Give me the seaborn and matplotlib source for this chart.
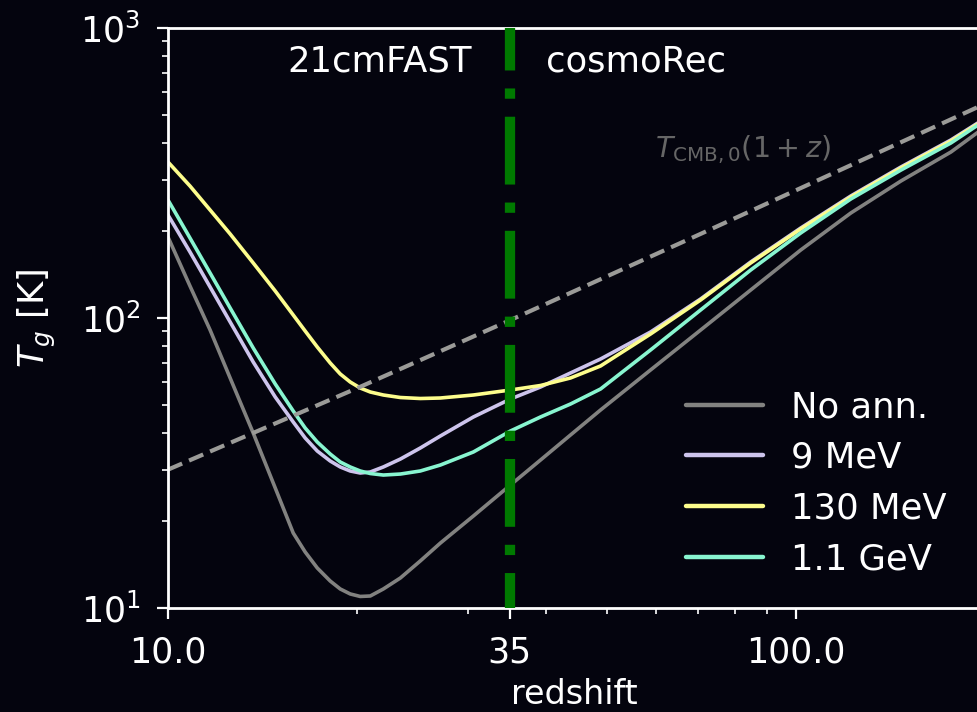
import numpy as np
import pandas as pd
import matplotlib
matplotlib.use("Agg")
import matplotlib.pyplot as plt
import matplotlib.ticker as mticker
import seaborn as sns

# ---------------- data ----------------
# shared redshift samples
z = [10.00, 10.84, 11.67, 12.56, 13.67, 14.82, 15.83, 16.54, 17.29, 18.13,
     18.81, 19.51, 20.24, 21.00, 22.03, 23.45, 25.23, 27.16, 30.65, 35.12,
     39.21, 43.77, 48.87, 58.71, 70.55, 84.77, 101.85, 122.4, 147.1, 176.7, 197.3]

T_noann = [190.2, 128.9, 90.9, 62.1, 40.1, 25.93, 18.14, 15.60, 13.74, 12.39,
           11.63, 11.18, 10.96, 11.00, 11.63, 12.69, 14.53, 16.75, 20.76, 26.56,
           32.38, 39.50, 48.17, 66.19, 90.9, 124.9, 171.6, 230.2, 296.8, 373.6, 444.9]

T_9mev = [226.6, 168.9, 127.9, 96.9, 70.5, 53.4, 43.8, 38.57, 34.78, 32.13,
          30.64, 29.68, 29.21, 29.44, 30.64, 32.63, 35.62, 39.19, 45.57, 52.57,
          57.82, 64.63, 72.21, 89.46, 116.3, 156.0, 204.3, 263.5, 331.7, 411.1, 478.0]

T_130mev = [345.1, 285.2, 235.7, 194.9, 154.8, 123.9, 102.4, 90.18, 79.43, 69.97,
            64.12, 60.16, 57.36, 55.57, 54.26, 53.19, 52.77, 52.98, 54.26, 56.46,
            58.51, 62.11, 68.32, 88.07, 115.4, 154.8, 202.7, 261.4, 329.1, 407.7, 474.2]

T_11gev = [255.2, 188.7, 142.9, 108.3, 78.8, 59.21, 47.79, 41.75, 37.36, 33.96,
           31.87, 30.64, 29.68, 29.09, 28.74, 28.97, 29.68, 31.12, 34.51, 40.77,
           45.57, 50.51, 56.91, 77.58, 106.6, 146.4, 196.4, 257.3, 323.7, 401.4, 470.3]

z_cmb = [10.0, 20.24, 35.12, 70.55, 197.3]
T_cmb = [30.0, 57.9, 98.4, 195.0, 540.0]

labels = ["No ann.", "9 MeV", "130 MeV", "1.1 GeV"]
colors = ["#828280", "#cdc4ec", "#fdfd8c", "#88f5d0"]
xticks = [10, 35, 100]
xticklabels = ["10.0", "35", "100.0"]
z_split = 35

# ---------------- figure ----------------
bg = "#04040e"
sns.set_theme(style="dark", rc={"axes.facecolor": bg, "figure.facecolor": bg})
plt.rcParams["font.family"] = ["DejaVu Sans"]

fig = plt.figure(figsize=(9.77, 7.12), dpi=100)
W, H = 977, 712
ax = fig.add_axes([168 / W, (H - 608) / H, (981 - 168) / W, (608 - 28) / H])
ax.set_facecolor(bg)

frames = []
for TT, lab in zip([T_noann, T_9mev, T_130mev, T_11gev], labels):
    frames.append(pd.DataFrame({"z": z, "T": TT, "model": lab}))
df = pd.concat(frames, ignore_index=True)

sns.lineplot(data=df, x="z", y="T", hue="model", hue_order=labels,
             palette=dict(zip(labels, colors)), estimator=None, sort=False,
             linewidth=2.6, legend=False, ax=ax)

sns.lineplot(x=z_cmb, y=T_cmb, ax=ax, color="#9b9b98", linewidth=3.0,
             estimator=None, sort=False)
ax.lines[-1].set_linestyle((0, (3.7, 1.8)))

ax.axvline(z_split, color="#007a00", linewidth=7.4,
           linestyle=(3.2, (6.6, 1.75, 1.0, 1.75)), zorder=5)

ax.set_xscale("log")
ax.set_yscale("log")
ax.set_xlim(10, 197.3)
ax.set_ylim(10, 1000)

ax.xaxis.set_major_locator(mticker.FixedLocator(xticks))
ax.xaxis.set_major_formatter(mticker.FixedFormatter(xticklabels))
ax.xaxis.set_minor_locator(mticker.LogLocator(base=10, subs=np.arange(2, 10)))
ax.xaxis.set_minor_formatter(mticker.NullFormatter())
ax.yaxis.set_major_locator(mticker.LogLocator(base=10))
ax.yaxis.set_minor_locator(mticker.LogLocator(base=10, subs=np.arange(2, 10)))
ax.yaxis.set_minor_formatter(mticker.NullFormatter())

for s in ax.spines.values():
    s.set_color("white")
    s.set_linewidth(2.0)
    s.set_visible(True)
ax.tick_params(which="major", direction="out", length=8, width=1.6, colors="white",
               labelsize=25, pad=12, bottom=True, left=True)
ax.tick_params(which="minor", direction="out", length=4.5, width=1.2, colors="white",
               bottom=True, left=True)
ax.grid(False)

ax.set_xlabel("redshift", color="white", fontsize=24, labelpad=6)
ax.set_ylabel(r"$T_g$ [K]", color="white", fontsize=25.5, labelpad=16)

ax.annotate("21cmFAST", xy=(z_split, 1), xycoords=("data", "axes fraction"),
            xytext=(-27, -24), textcoords="offset points", ha="right", va="center",
            color="white", fontsize=25.5)
ax.annotate("cosmoRec", xy=(z_split, 1), xycoords=("data", "axes fraction"),
            xytext=(26, -24), textcoords="offset points", ha="left", va="center",
            color="white", fontsize=25.5)
ax.text(0.599, 0.79, r"$T_{\rm CMB,0}(1+z)$", transform=ax.transAxes,
        color="#666666", fontsize=20.5, ha="left", va="center")

handles = ax.lines[:4]
leg = ax.legend(handles, labels, loc="lower right", bbox_to_anchor=(0.997, 0.0),
                frameon=False, fontsize=25.5, handlelength=2.17, labelspacing=0.47,
                handletextpad=0.8, borderaxespad=0.5)
for t in leg.get_texts():
    t.set_color("white")
for h in leg.legend_handles:
    h.set_linewidth(3.2)

fig.savefig("out.png", dpi=100, facecolor=bg)
